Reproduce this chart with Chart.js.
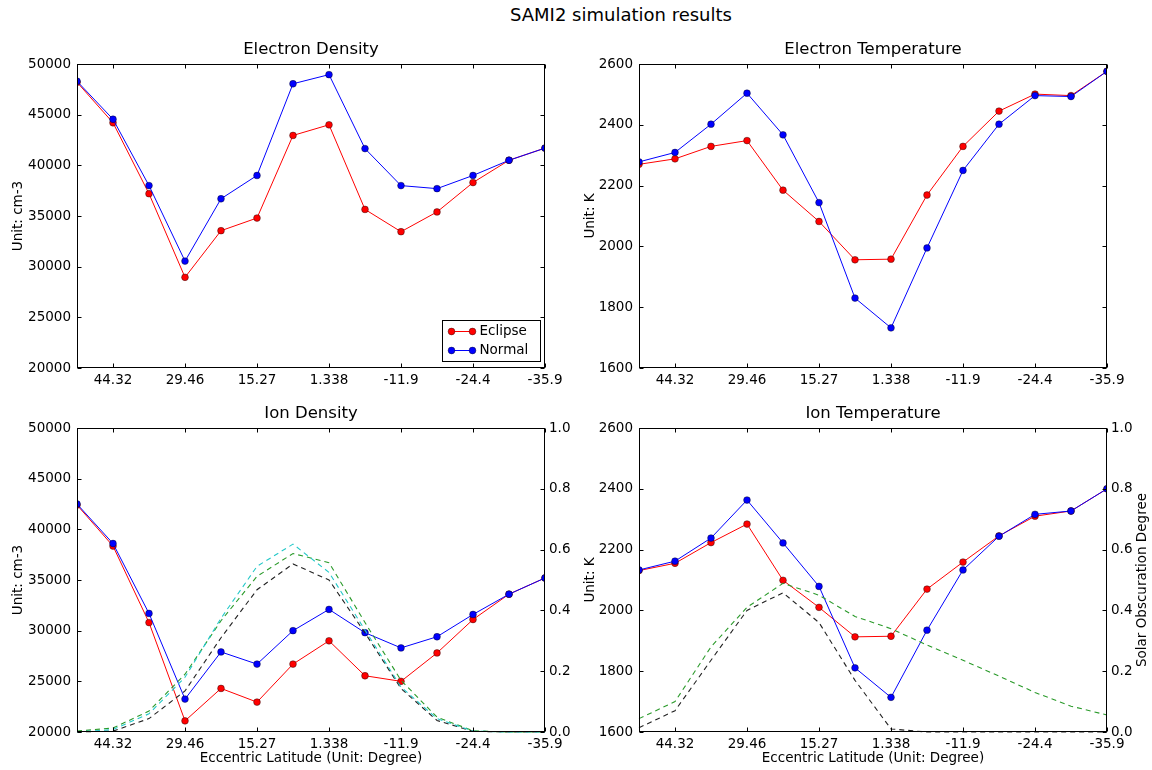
<!DOCTYPE html>
<html>
<head>
<meta charset="utf-8">
<script src="https://cdn.jsdelivr.net/npm/chart.js@4.4.1/dist/chart.umd.min.js"></script>
<style>
  body { margin: 0; background: #fff; width: 1152px; height: 770px; position: relative; overflow: hidden; font-family: "DejaVu Sans", sans-serif; }
  canvas { position: absolute; }
  #suptitle { position: absolute; left: 421px; width: 400px; top: 3px; text-align: center; font-size: 18px; line-height: 24px; color: #000; }
</style>
</head>
<body>
<div id="suptitle">SAMI2 simulation results</div>
<canvas id="eDen" width="576" height="360" style="left:0;top:30px"></canvas>
<canvas id="eTemp" width="576" height="360" style="left:576px;top:30px"></canvas>
<canvas id="iDen" width="576" height="376" style="left:0;top:394px"></canvas>
<canvas id="iTemp" width="576" height="376" style="left:576px;top:394px"></canvas>
<script>
// x positions (sample index) and the latitude labels shown at every other sample
const samples = [0, 1, 2, 3, 4, 5, 6, 7, 8, 9, 10, 11, 12, 13];
const tickPos = [1, 3, 5, 7, 9, 11, 13];
const latTicks = ["44.32", "29.46", "15.27", "1.338", "-11.9", "-24.4", "-35.9"];

// Electron density
const eDenEclipse = [48200, 44200, 37200, 28950, 33550, 34800, 42950, 44000, 35650, 33450, 35400, 38300, 40500, 41700];
const eDenNormal = [48300, 44550, 38000, 30550, 36700, 39000, 48050, 48950, 41650, 38000, 37700, 39000, 40500, 41700];

// Electron temperature
const eTempEclipse = [2270, 2288, 2329, 2348, 2185, 2082, 1956, 1958, 2169, 2329, 2445, 2501, 2496, 2576];
const eTempNormal = [2278, 2309, 2402, 2504, 2367, 2144, 1830, 1732, 1995, 2250, 2402, 2496, 2493, 2576];

// Ion density
const iDenEclipse = [42400, 38350, 30800, 21100, 24300, 22950, 26700, 29000, 25550, 25000, 27800, 31100, 33600, 35200];
const iDenNormal = [42500, 38600, 31700, 23250, 27900, 26700, 30000, 32100, 29800, 28300, 29400, 31600, 33600, 35200];
const iDenObsCyan = [0, 0.008, 0.06, 0.18, 0.374, 0.545, 0.618, 0.525, 0.335, 0.148, 0.044, 0.003, 0, 0];
const iDenObsGreen = [0.003, 0.013, 0.069, 0.19, 0.366, 0.512, 0.587, 0.557, 0.36, 0.17, 0.049, 0.004, 0, 0];
const iDenObsBlack = [0, 0.003, 0.044, 0.135, 0.31, 0.468, 0.553, 0.5, 0.326, 0.143, 0.038, 0.002, 0, 0];

// Ion temperature
const iTempEclipse = [2131, 2155, 2223, 2284, 2099, 2010, 1913, 1915, 2070, 2159, 2245, 2310, 2327, 2400];
const iTempNormal = [2133, 2162, 2238, 2363, 2222, 2079, 1811, 1714, 1935, 2133, 2244, 2316, 2327, 2400];
const iTempObsGreen = [0.044, 0.10, 0.28, 0.41, 0.489, 0.45, 0.38, 0.34, 0.286, 0.236, 0.184, 0.13, 0.085, 0.056];
const iTempObsBlack = [0.014, 0.07, 0.236, 0.40, 0.458, 0.36, 0.17, 0.01, 0, 0, 0, 0, 0, 0];

Chart.defaults.font.family = "'DejaVu Sans', sans-serif";
Chart.defaults.font.size = 13.5;
Chart.defaults.color = "#000";

function solid(label, values, color, order) {
  return {
    label: label,
    data: values.map((v, i) => ({ x: samples[i], y: v })),
    borderColor: color,
    backgroundColor: color,
    borderWidth: 1,
    pointRadius: 3.4,
    pointBorderColor: "#000",
    pointBorderWidth: 0.4,
    order: order,
    yAxisID: "y",
  };
}

function dashed(values, color) {
  return {
    label: "",
    data: values.map((v, i) => ({ x: samples[i], y: v })),
    borderColor: color,
    borderWidth: 1.1,
    borderDash: [5, 4],
    pointRadius: 0,
    order: 0,
    clip: 2,
    yAxisID: "y2",
  };
}

// box round the plot area + inward tick marks, like the matplotlib classic style
const framePlugin = {
  id: "frame",
  afterDraw(chart) {
    const { ctx, chartArea: a, scales } = chart;
    const L = 4;
    ctx.save();
    ctx.strokeStyle = "#000";
    ctx.lineWidth = 1;
    const seg = (x1, y1, x2, y2) => { ctx.beginPath(); ctx.moveTo(x1, y1); ctx.lineTo(x2, y2); ctx.stroke(); };
    const l = Math.round(a.left) + 0.5, r = Math.round(a.right) - 0.5;
    const t = Math.round(a.top) + 0.5, b = Math.round(a.bottom) - 0.5;
    ctx.strokeRect(l, t, r - l, b - t);
    scales.x.ticks.forEach(tk => {
      const px = Math.round(scales.x.getPixelForValue(tk.value)) + 0.5;
      seg(px, b, px, b - L);
      seg(px, t, px, t + L);
    });
    scales.y.ticks.forEach(tk => {
      const py = Math.round(scales.y.getPixelForValue(tk.value)) + 0.5;
      seg(l, py, l + L, py);
      if (!scales.y2) seg(r, py, r - L, py);
    });
    if (scales.y2) {
      scales.y2.ticks.forEach(tk => {
        const py = Math.round(scales.y2.getPixelForValue(tk.value)) + 0.5;
        seg(r, py, r - L, py);
      });
    }
    ctx.fillStyle = "#000";
    ctx.textAlign = "center";
    ctx.textBaseline = "middle";
    // subplot title, centred over the plot area
    ctx.font = "16.5px 'DejaVu Sans'";
    ctx.fillText(chart.options.plugins.panelTitle, (a.left + a.right) / 2, a.top - 14);
    const txt = chart.options.plugins.rightTitle;
    if (txt) {
      ctx.font = "13.5px 'DejaVu Sans'";
      ctx.translate(chart.width - 10, (a.top + a.bottom) / 2);
      ctx.rotate(-Math.PI / 2);
      ctx.fillText(txt, 0, 0);
    }
    ctx.restore();
  },
};

// matplotlib-like legend in the lower right corner of the plot area
const legendPlugin = {
  id: "boxLegend",
  afterDatasetsDraw(chart) {
    if (!chart.options.plugins.boxLegend) return;
    const { ctx, chartArea: a } = chart;
    const items = chart.data.datasets.filter(d => d.label);
    const w = 98, h = 41;
    const x = Math.round(a.right - 5 - w) + 0.5, y = Math.round(a.bottom - 7 - h) + 0.5;
    ctx.save();
    ctx.fillStyle = "#fff";
    ctx.fillRect(x, y, w, h);
    ctx.strokeStyle = "#000";
    ctx.lineWidth = 1;
    ctx.strokeRect(x, y, w, h);
    ctx.font = "13.5px 'DejaVu Sans'";
    ctx.textBaseline = "middle";
    items.forEach((d, i) => {
      const yy = y + 11 + i * 19;
      ctx.strokeStyle = d.borderColor;
      ctx.beginPath(); ctx.moveTo(x + 9, yy); ctx.lineTo(x + 30, yy); ctx.stroke();
      [x + 9, x + 30].forEach(cx => {
        ctx.beginPath(); ctx.arc(cx, yy, 3.4, 0, Math.PI * 2);
        ctx.fillStyle = d.backgroundColor; ctx.fill();
        ctx.lineWidth = 0.4; ctx.strokeStyle = "#000"; ctx.stroke();
        ctx.lineWidth = 1; ctx.strokeStyle = d.borderColor;
      });
      ctx.fillStyle = "#000";
      ctx.fillText(d.label, x + 37, yy);
    });
    ctx.restore();
  },
};

function makeChart(id, cfg) {
  const hasRight = !!cfg.right;
  const scales = {
    x: {
      type: "linear",
      min: 0,
      max: 13,
      grid: { display: false, drawTicks: false },
      border: { display: false },
      afterBuildTicks: s => { s.ticks = tickPos.map(v => ({ value: v })); },
      ticks: { padding: 4, autoSkip: false, maxRotation: 0, callback: v => latTicks[tickPos.indexOf(v)] },
      title: { display: !!cfg.xTitle, text: cfg.xTitle || "", padding: { top: 0, bottom: 3 } },
      afterFit: s => { s.height = cfg.xHeight; },
    },
    y: {
      position: "left",
      min: cfg.yMin,
      max: cfg.yMax,
      grid: { display: false, drawTicks: false },
      border: { display: false },
      ticks: { stepSize: cfg.yStep, padding: 6, callback: v => String(v) },
      title: { display: true, text: cfg.yTitle, padding: { top: cfg.yTitlePad, bottom: 0 } },
      afterFit: s => { s.width = cfg.yWidth; },
    },
  };
  if (hasRight) {
    scales.y2 = {
      position: "right",
      min: 0,
      max: 1,
      grid: { display: false, drawTicks: false },
      border: { display: false },
      ticks: { stepSize: 0.2, padding: 4, callback: v => v.toFixed(1) },
      afterFit: s => { s.width = cfg.rightWidth; },
    };
  }
  return new Chart(document.getElementById(id), {
    type: "line",
    data: { datasets: cfg.datasets },
    options: {
      responsive: false,
      animation: false,
      layout: { padding: { left: 0, right: cfg.padRight, top: 34, bottom: 0 } },
      scales: scales,
      plugins: {
        legend: { display: false },
        tooltip: { enabled: false },
        title: { display: false },
        panelTitle: cfg.title,
        boxLegend: !!cfg.legend,
        rightTitle: cfg.rightTitle || "",
      },
    },
    plugins: [legendPlugin, framePlugin],
  });
}

makeChart("eDen", {
  title: "Electron Density",
  datasets: [solid("Eclipse", eDenEclipse, "#ff0000", 2), solid("Normal", eDenNormal, "#0000ff", 1)],
  yMin: 20000, yMax: 50000, yStep: 5000, yTitle: "Unit: cm-3", yTitlePad: 10,
  yWidth: 77, padRight: 31, xHeight: 22, legend: true,
});

makeChart("eTemp", {
  title: "Electron Temperature",
  datasets: [solid("Eclipse", eTempEclipse, "#ff0000", 2), solid("Normal", eTempNormal, "#0000ff", 1)],
  yMin: 1600, yMax: 2600, yStep: 200, yTitle: "Unit: K", yTitlePad: 6,
  yWidth: 63, padRight: 45, xHeight: 22,
});

makeChart("iDen", {
  title: "Ion Density",
  datasets: [
    solid("Eclipse", iDenEclipse, "#ff0000", 2),
    solid("Normal", iDenNormal, "#0000ff", 1),
    dashed(iDenObsCyan, "#22c8c8"),
    dashed(iDenObsGreen, "#2a9a2a"),
    dashed(iDenObsBlack, "#222222"),
  ],
  yMin: 20000, yMax: 50000, yStep: 5000, yTitle: "Unit: cm-3", yTitlePad: 10,
  yWidth: 77, padRight: 0, xHeight: 38, right: true, rightWidth: 31,
  xTitle: "Eccentric Latitude (Unit: Degree)",
});

makeChart("iTemp", {
  title: "Ion Temperature",
  datasets: [
    solid("Eclipse", iTempEclipse, "#ff0000", 2),
    solid("Normal", iTempNormal, "#0000ff", 1),
    dashed(iTempObsGreen, "#2a9a2a"),
    dashed(iTempObsBlack, "#222222"),
  ],
  yMin: 1600, yMax: 2600, yStep: 200, yTitle: "Unit: K", yTitlePad: 6,
  yWidth: 63, padRight: 0, xHeight: 38, right: true, rightWidth: 45,
  xTitle: "Eccentric Latitude (Unit: Degree)", rightTitle: "Solar Obscuration Degree",
});
</script>
</body>
</html>
